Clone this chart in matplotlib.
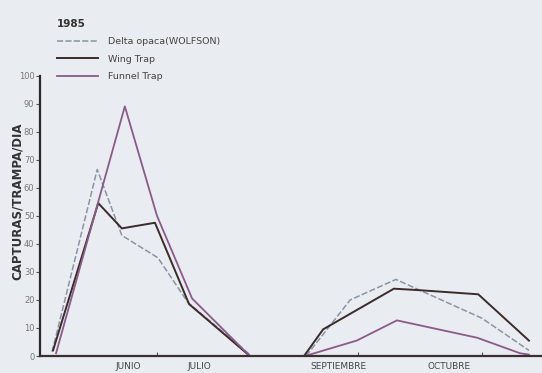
import numpy as np
import matplotlib
matplotlib.use("Agg")
import matplotlib.pyplot as plt

# x positions are on an arbitrary 0-100 scale along the season
delta_x1 = [2.4, 11.4, 16.3, 23.5, 29.5, 41.8]
delta_y1 = [1.5, 66.5, 43, 35, 19, 0.5]
wing_x1 = [2.6, 11.6, 16.3, 22.9, 29.7, 41.8]
wing_y1 = [2, 54.5, 45.5, 47.5, 18.5, 0]
funnel_x1 = [3.2, 16.9, 23.3, 30.3, 41.8]
funnel_y1 = [1, 89, 50, 20.5, 0]

delta_x2 = [53.0, 61.8, 70.9, 88.0, 97.4]
delta_y2 = [0, 20, 27.3, 13.5, 2]
wing_x2 = [52.6, 56.4, 70.5, 75.3, 87.3, 97.4]
wing_y2 = [0, 9.5, 24, 23.5, 22, 5.5]
funnel_x2 = [52.8, 63.1, 71.1, 87.1, 95.6, 97.4]
funnel_y2 = [0, 5.5, 12.7, 6.5, 1, 0.5]

month_ticks = [23.3, 63.3, 88.0]
month_pos = [17.5, 31.7, 59.4, 81.5]
month_labels = ["JUNIO", "JULIO", "SEPTIEMBRE", "OCTUBRE"]
y_ticks = list(range(0, 101, 10))

bg = "#e9ecf1"
c_delta = "#8b93a6"
c_wing = "#3b2c2a"
c_funnel = "#8c5a8a"

plt.rcParams["font.family"] = ["DejaVu Sans"]

fig = plt.figure(figsize=(5.42, 3.73), dpi=100, facecolor=bg)
ax = fig.add_axes([40 / 542, 17 / 373, 1 - 40 / 542, 280.5 / 373])
ax.set_facecolor(bg)

ax.plot(delta_x1, delta_y1, color=c_delta, lw=1.1, ls=(0, (4, 1.5)), label="Delta opaca(WOLFSON)")
ax.plot(delta_x2, delta_y2, color=c_delta, lw=1.1, ls=(0, (4, 1.5)))
ax.plot(wing_x1, wing_y1, color=c_wing, lw=1.4, label="Wing Trap")
ax.plot(wing_x2, wing_y2, color=c_wing, lw=1.4)
ax.plot(funnel_x1, funnel_y1, color=c_funnel, lw=1.3, label="Funnel Trap")
ax.plot(funnel_x2, funnel_y2, color=c_funnel, lw=1.3)

ax.set_xlim(0, 100)
ax.set_ylim(0, 100)
ax.spines["top"].set_visible(False)
ax.spines["right"].set_visible(False)
ax.spines["left"].set_linewidth(1.6)
ax.spines["left"].set_color("#2a2a2a")
ax.spines["bottom"].set_linewidth(1.6)
ax.spines["bottom"].set_color("#3a3030")

ax.set_yticks(y_ticks)
ax.set_yticklabels([str(v) for v in y_ticks], fontsize=6, color="#777777")
ax.tick_params(axis="y", length=3, width=0.8, color="#555555", pad=1)

ax.set_xticks(month_ticks)
ax.set_xticklabels([])
ax.tick_params(axis="x", length=3, width=0.8, color="#555555", direction="in")
ax.set_xticks(month_pos, minor=True)
ax.set_xticklabels(month_labels, minor=True, fontsize=6.5, color="#444444")
ax.tick_params(axis="x", which="minor", length=0, pad=4)

ax.set_ylabel("CAPTURAS/TRAMPA/DIA", fontsize=8.5, fontweight="bold", color="#333333")
ax.yaxis.set_label_coords(-0.033, 0.55)

leg = fig.legend(loc="upper left", bbox_to_anchor=(53 / 542, 1 - 15 / 373), frameon=False,
                 title="1985", alignment="left", fontsize=6.8, handlelength=4.4,
                 handletextpad=1.05, labelspacing=0.9, borderaxespad=0)
plt.setp(leg.get_title(), fontsize=7.5, fontweight="bold", color="#333333")
for t in leg.get_texts():
    t.set_color("#444444")

fig.savefig("out.png", dpi=100, facecolor=bg)
